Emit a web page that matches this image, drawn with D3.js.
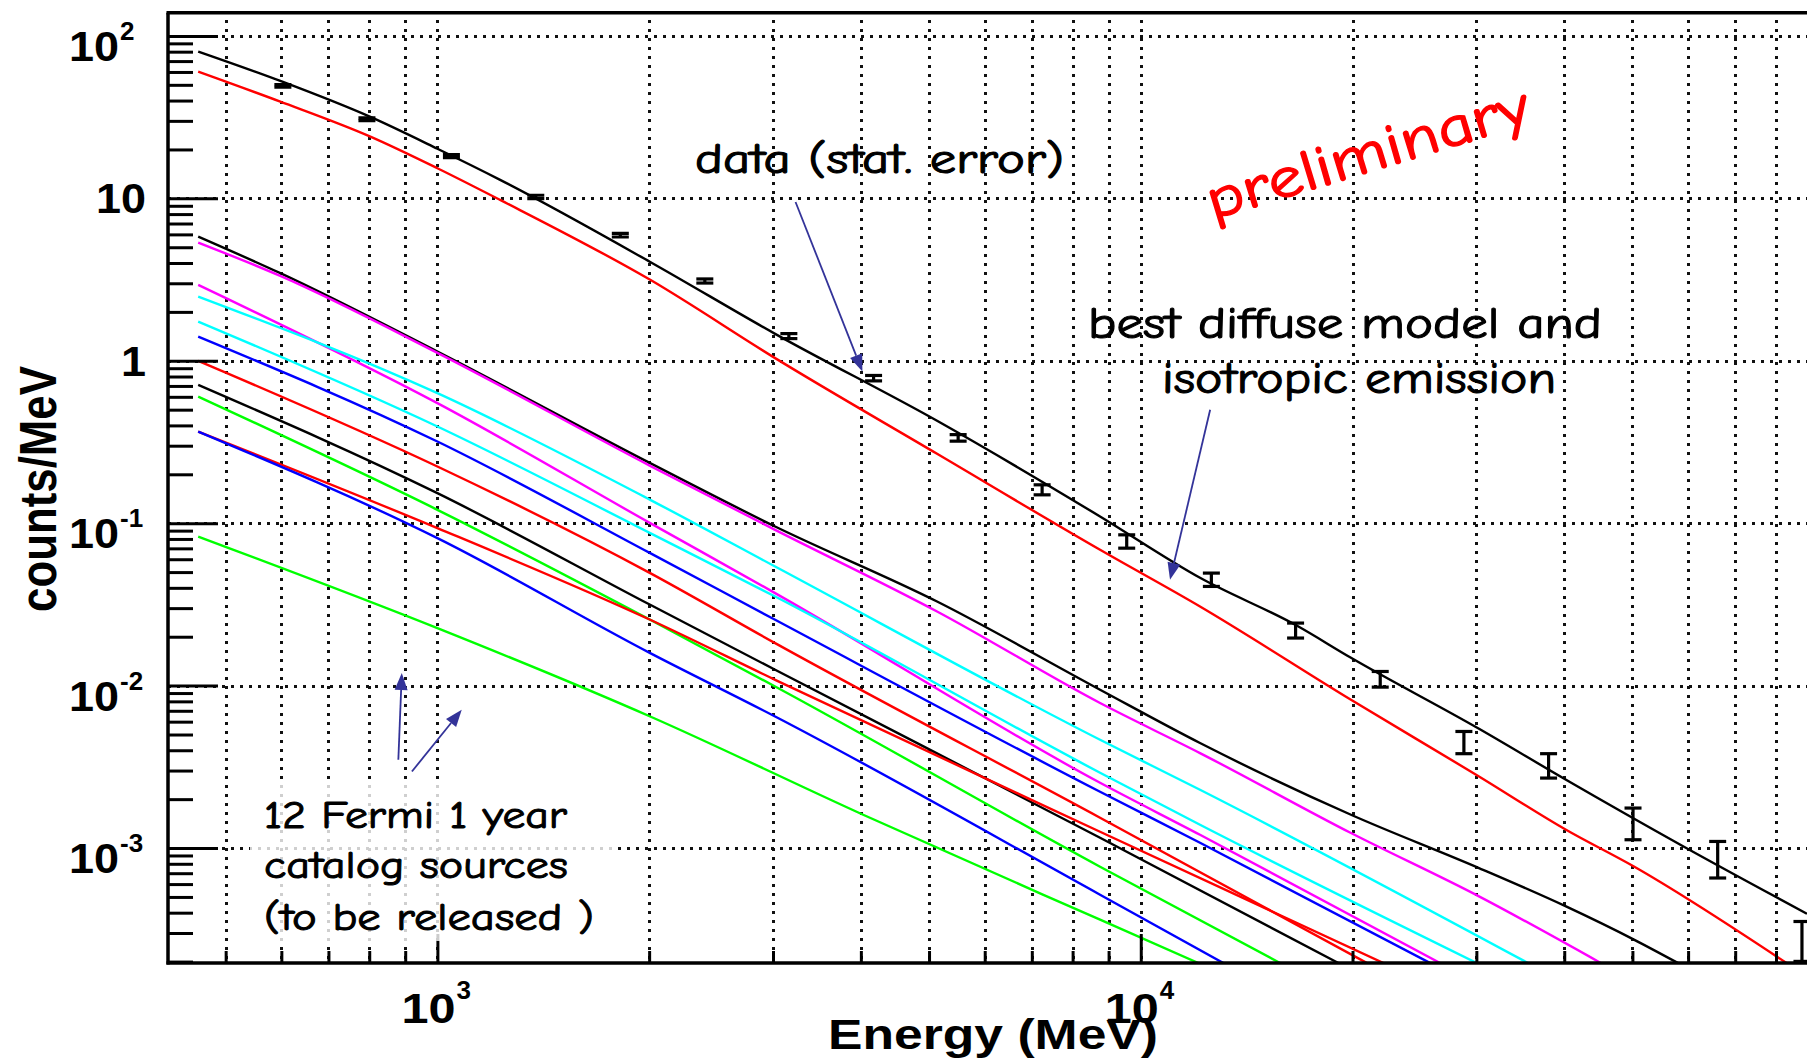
<!DOCTYPE html>
<html>
<head>
<meta charset="utf-8">
<script src="https://cdn.jsdelivr.net/npm/d3@7"></script>
<style>
  html, body { margin: 0; padding: 0; background: #fff; }
  svg { display: block; }
</style>
</head>
<body>
<svg id="chart" width="1807" height="1060"></svg>
<script>
// ---------------------------------------------------------------
// Counts spectrum: measured bins (counts/MeV) with statistical errors
// ---------------------------------------------------------------
const binEnergy  = [603, 794, 1047, 1380, 1820, 2400, 3160, 4170, 5500, 7240,
                    9550, 12600, 16600, 21900, 28800, 38000, 50100, 66100, 87100];
const dataCounts = [49.2, 30.7, 18.2, 10.2, 5.93, 3.10, 1.42, 0.782, 0.335, 0.1605,
                    0.0771, 0.0448, 0.02185, 0.01097, 0.00443, 0.00318, 0.001426, 0.000847, 0.000269];
const dataLow    = [48.3, 30.1, 17.8, 9.95, 5.78, 3.01, 1.37, 0.752, 0.320, 0.1495,
                    0.0702, 0.0408, 0.01963, 0.00979, 0.00381, 0.002697, 0.001125, 0.000654, 0.0002005];
const dataHigh   = [50.1, 31.3, 18.6, 10.45, 6.08, 3.19, 1.47, 0.812, 0.351, 0.1723,
                    0.0848, 0.0493, 0.02427, 0.01222, 0.00522, 0.00381, 0.001763, 0.001098, 0.000353];

// Model curves, [energy (MeV), counts/MeV]
const totalModel = [[457, 80.1], [598, 52.8], [803, 31.7], [1000, 20.2], [1228, 13.0], [2007, 4.06],
                    [3021, 1.465], [5133, 0.427], [8752, 0.110], [12140, 0.0461], [16680, 0.02335],
                    [19900, 0.01484], [30260, 0.005425], [40230, 0.002633], [59190, 0.001019], [88540, 0.000394]];
const diffuseIsoModel = [[457, 60.3], [598, 39.4], [803, 24.0], [1000, 15.33], [1228, 9.78], [2007, 3.15],
                    [3021, 1.038], [5133, 0.2674], [8752, 0.0686], [12140, 0.0307], [19900, 0.00818],
                    [30260, 0.00276], [40230, 0.001296], [50250, 0.00077], [82800, 0.000196]];

// The twelve catalog point sources
const src01 = [[457, 5.815], [598, 3.462], [1000, 1.139], [2007, 0.2343], [3021, 0.0954], [5133, 0.03295],
               [8752, 0.00943], [12140, 0.00443], [19900, 0.001603], [30260, 0.000753], [40230, 0.000437],
               [50250, 0.000273], [58030, 0.000196]];
const src02 = [[457, 5.343], [598, 3.33], [1000, 1.119], [2007, 0.2255], [3021, 0.0910], [5133, 0.02861],
               [8752, 0.00781], [12140, 0.003843], [19900, 0.001237], [30260, 0.000504], [45080, 0.000196]];
const src03 = [[457, 2.933], [1000, 0.5484], [2007, 0.1001], [3021, 0.03712], [8752, 0.002523],
               [12140, 0.001207], [26640, 0.000196]];
const src04 = [[457, 2.485], [1000, 0.6321], [2007, 0.1393], [3021, 0.05411], [8752, 0.004641],
               [12140, 0.002284], [35520, 0.000196]];
const src05 = [[457, 1.743], [1000, 0.3937], [2007, 0.0869], [3021, 0.03538], [8752, 0.002908],
               [12140, 0.001391], [30040, 0.000196]];
const src06 = [[457, 1.409], [1000, 0.3183], [2007, 0.0654], [3021, 0.02543], [8752, 0.00222],
               [12140, 0.001078], [25780, 0.000196]];
const src07 = [[457, 0.9989], [1000, 0.2233], [2007, 0.0493], [3021, 0.01827], [8752, 0.001537], [20960, 0.000196]];
const src08 = [[457, 0.7108], [1000, 0.1531], [2007, 0.03145], [3021, 0.01252], [8752, 0.001158], [19097, 0.000196]];
const src09 = [[457, 0.6023], [1000, 0.1209], [2007, 0.02543], [3021, 0.00988], [8752, 0.000767], [15780, 0.000196]];
const src10 = [[457, 0.3666], [1000, 0.0933], [2007, 0.02543], [3021, 0.01086], [8752, 0.00126], [22130, 0.000196]];
const src11 = [[457, 0.3666], [1000, 0.0809], [2007, 0.01586], [3021, 0.006457], [8752, 0.000516], [13102, 0.000196]];
const src12 = [[457, 0.0828], [1000, 0.0226], [2007, 0.006457], [4030, 0.001603], [8752, 0.000362], [12075, 0.000196]];
const sourceCurves = [src01, src02, src03, src04, src05, src06, src07, src08, src09, src10, src11, src12];
const sourceColors = ["#000000", "#ff00ff", "#ff00ff", "#00ffff", "#00ffff", "#0000ff",
                      "#ff0000", "#000000", "#00ff00", "#ff0000", "#0000ff", "#00ff00"];

// Axis ticks
const xMajorTicks = [1000, 10000];
const xMinorTicks = [500, 600, 700, 800, 900, 2000, 3000, 4000, 5000, 6000, 7000, 8000, 9000,
                     20000, 30000, 40000, 50000, 60000, 70000, 80000, 90000];
const yMajorTicks = [1e-3, 1e-2, 1e-1, 1, 10, 100];
const yMinorTicks = [2e-4, 3e-4, 4e-4, 5e-4, 6e-4, 7e-4, 8e-4, 9e-4,
                     2e-3, 3e-3, 4e-3, 5e-3, 6e-3, 7e-3, 8e-3, 9e-3,
                     0.02, 0.03, 0.04, 0.05, 0.06, 0.07, 0.08, 0.09,
                     0.2, 0.3, 0.4, 0.5, 0.6, 0.7, 0.8, 0.9,
                     2, 3, 4, 5, 6, 7, 8, 9, 20, 30, 40, 50, 60, 70, 80, 90];
const xTickLabels = [{v: 1000, exp: "3"}, {v: 10000, exp: "4"}];
const yTickLabels = [{v: 100, base: "10", exp: "2"}, {v: 10, base: "10", exp: ""}, {v: 1, base: "1", exp: ""},
                     {v: 0.1, base: "10", exp: "-1"}, {v: 0.01, base: "10", exp: "-2"}, {v: 0.001, base: "10", exp: "-3"}];

// Annotation arrows, [energy, counts] of tail and head
const dataArrow   = [[3230, 9.5], [4020, 0.86]];
const modelArrow  = [[12550, 0.499], [11005, 0.0448]];
const sourceArrowA = [[880, 0.0035], [890, 0.01195]];
const sourceArrowB = [[920, 0.00296], [1083, 0.0071]];

// ---------------------------------------------------------------
const svg = d3.select("#chart");
const frame = {left: 168, right: 1815, top: 12.7, bottom: 963};

const x = d3.scaleLog().domain([414, 90900]).range([frame.left, frame.right]);
const y = d3.scaleLog().domain([1.96e-4, 139]).range([frame.bottom, frame.top]);

svg.append("rect").attr("width", 1807).attr("height", 1060).attr("fill", "#fff");

svg.append("defs").append("clipPath").attr("id", "plotClip")
  .append("rect")
  .attr("x", frame.left).attr("y", frame.top)
  .attr("width", frame.right - frame.left).attr("height", frame.bottom - frame.top);

// dotted grid
const grid = svg.append("g").attr("stroke", "#111").attr("stroke-width", 3)
  .attr("stroke-dasharray", "3 6").attr("shape-rendering", "crispEdges");
grid.selectAll("line.vgrid").data(xMajorTicks.concat(xMinorTicks)).join("line")
  .attr("class", "vgrid")
  .attr("x1", d => Math.round(x(d))).attr("x2", d => Math.round(x(d)))
  .attr("y1", frame.top + 7).attr("y2", frame.bottom);
grid.selectAll("line.hgrid").data(yMajorTicks).join("line")
  .attr("class", "hgrid")
  .attr("x1", frame.left).attr("x2", 1807)
  .attr("y1", d => Math.round(y(d))).attr("y2", d => Math.round(y(d)));

// model curves
const line = d3.line().x(d => x(d[0])).y(d => y(d[1])).curve(d3.curveMonotoneX);
const curves = svg.append("g").attr("clip-path", "url(#plotClip)")
  .attr("fill", "none").attr("stroke-width", 2.4).attr("stroke-linejoin", "round");
curves.selectAll("path.src").data(sourceCurves).join("path")
  .attr("class", "src")
  .attr("d", line)
  .attr("stroke", (d, i) => sourceColors[i]);
curves.append("path").attr("d", line(diffuseIsoModel)).attr("stroke", "#ff0000");
curves.append("path").attr("d", line(totalModel)).attr("stroke", "#000000");

// data points with error bars
const pts = binEnergy.map((e, i) => ({e, c: dataCounts[i], lo: dataLow[i], hi: dataHigh[i]}));
const bars = svg.append("g").attr("clip-path", "url(#plotClip)")
  .attr("stroke", "#000").attr("stroke-width", 3.2);
const capHalf = 8.5;
bars.selectAll("line.err").data(pts).join("line").attr("class", "err")
  .attr("x1", d => x(d.e)).attr("x2", d => x(d.e))
  .attr("y1", d => y(d.lo)).attr("y2", d => y(d.hi));
bars.selectAll("line.capLo").data(pts).join("line").attr("class", "capLo")
  .attr("x1", d => x(d.e) - capHalf).attr("x2", d => x(d.e) + capHalf)
  .attr("y1", d => y(d.lo)).attr("y2", d => y(d.lo));
bars.selectAll("line.capHi").data(pts).join("line").attr("class", "capHi")
  .attr("x1", d => x(d.e) - capHalf).attr("x2", d => x(d.e) + capHalf)
  .attr("y1", d => y(d.hi)).attr("y2", d => y(d.hi));

// axes (ticks only, labels drawn separately for the power-of-ten form)
function styleAxis(g) {
  g.select(".domain").remove();
  g.selectAll(".tick line").attr("stroke", "#000").attr("stroke-width", 3);
  g.selectAll(".tick text").remove();
}
svg.append("g").attr("transform", `translate(0,${frame.bottom})`)
  .call(d3.axisBottom(x).tickValues(xMinorTicks).tickSize(-12).tickFormat(""))
  .call(styleAxis);
svg.append("g").attr("transform", `translate(0,${frame.bottom})`)
  .call(d3.axisBottom(x).tickValues(xMajorTicks).tickSize(-29).tickFormat(""))
  .call(styleAxis);
svg.append("g").attr("transform", `translate(${frame.left},0)`)
  .call(d3.axisLeft(y).tickValues(yMinorTicks).tickSize(-25).tickFormat(""))
  .call(styleAxis);
svg.append("g").attr("transform", `translate(${frame.left},0)`)
  .call(d3.axisLeft(y).tickValues(yMajorTicks).tickSize(-50).tickFormat(""))
  .call(styleAxis);

// frame lines
const fr = svg.append("g").attr("stroke", "#000").attr("stroke-width", 3.5);
fr.append("line").attr("x1", frame.left).attr("x2", frame.left).attr("y1", frame.top).attr("y2", frame.bottom + 1.5);
fr.append("line").attr("x1", frame.left - 1.5).attr("x2", 1807).attr("y1", frame.bottom).attr("y2", frame.bottom);
fr.append("line").attr("x1", frame.left - 1.5).attr("x2", 1807).attr("y1", frame.top).attr("y2", frame.top);

// tick labels
const sans = "'Liberation Sans', Arial, Helvetica, sans-serif";
const lab = svg.append("g").attr("font-family", sans).attr("font-weight", "bold").attr("fill", "#000");
xTickLabels.forEach(t => {
  const px = x(t.v);
  lab.append("text").attr("x", px + 18).attr("y", 1023).attr("text-anchor", "end")
    .attr("font-size", 42).attr("textLength", 54).attr("lengthAdjust", "spacingAndGlyphs").text("10");
  lab.append("text").attr("x", px + 19).attr("y", 999).attr("text-anchor", "start")
    .attr("font-size", 26).text(t.exp);
});
yTickLabels.forEach(t => {
  const py = y(t.v);
  if (t.exp) {
    lab.append("text").attr("x", 119).attr("y", py + 25).attr("text-anchor", "end")
      .attr("font-size", 42).attr("textLength", 50).attr("lengthAdjust", "spacingAndGlyphs").text(t.base);
    lab.append("text").attr("x", 120).attr("y", py + 4).attr("text-anchor", "start")
      .attr("font-size", 26).text(t.exp);
  } else {
    lab.append("text").attr("x", 146).attr("y", py + 15).attr("text-anchor", "end")
      .attr("font-size", 42)
      .attr("textLength", t.base.length * 25).attr("lengthAdjust", "spacingAndGlyphs").text(t.base);
  }
});

// axis titles
lab.append("text").attr("x", 828).attr("y", 1049).attr("font-size", 42)
  .attr("textLength", 330).attr("lengthAdjust", "spacingAndGlyphs").text("Energy (MeV)");
lab.append("text").attr("transform", "translate(56,489) rotate(-90)").attr("text-anchor", "middle")
  .attr("font-size", 52).attr("textLength", 246).attr("lengthAdjust", "spacingAndGlyphs").text("counts/MeV");

// annotations (hand-lettered look: rounded font with a slightly heavier stroke)
const hand = "'Comic Sans MS', 'Comic Neue', 'Open Sans', sans-serif";
const ann = svg.append("g").attr("font-family", hand).attr("fill", "#000")
  .attr("stroke", "#000").attr("stroke-width", 1.1).attr("stroke-linejoin", "round");
ann.append("text").attr("x", 695).attr("y", 173).attr("font-size", 42)
  .attr("textLength", 369).attr("lengthAdjust", "spacingAndGlyphs").text("data (stat. error)");
ann.append("text").attr("x", 1088).attr("y", 338).attr("font-size", 44)
  .attr("textLength", 514).attr("lengthAdjust", "spacingAndGlyphs").text("best diffuse model and");
ann.append("text").attr("x", 1162).attr("y", 393).attr("font-size", 44)
  .attr("textLength", 394).attr("lengthAdjust", "spacingAndGlyphs").text("isotropic emission");
ann.append("text").attr("transform", "translate(1213,220) rotate(-17)")
  .attr("font-size", 58).attr("fill", "#ff0000").attr("stroke", "#ff0000").attr("stroke-width", 1.3)
  .attr("textLength", 335).attr("lengthAdjust", "spacingAndGlyphs").text("preliminary");

// catalog-source note on a light box
svg.append("rect").attr("x", 250).attr("y", 779).attr("width", 367).attr("height", 162)
  .attr("fill", "#fff").attr("fill-opacity", 0.8);
const note = svg.append("g").attr("font-family", hand).attr("fill", "#000").attr("font-size", 38)
  .attr("stroke", "#000").attr("stroke-width", 1.0).attr("stroke-linejoin", "round");
note.append("text").attr("x", 264).attr("y", 828)
  .attr("textLength", 303).attr("lengthAdjust", "spacingAndGlyphs").text("12 Fermi 1 year");
note.append("text").attr("x", 264).attr("y", 878)
  .attr("textLength", 304).attr("lengthAdjust", "spacingAndGlyphs").text("catalog sources");
note.append("text").attr("x", 264).attr("y", 930)
  .attr("textLength", 330).attr("lengthAdjust", "spacingAndGlyphs").text("(to be released )");

// arrows
const arrowColor = "#333399";
function drawArrow(a) {
  const x0 = x(a[0][0]), y0 = y(a[0][1]), x1 = x(a[1][0]), y1 = y(a[1][1]);
  const ang = Math.atan2(y1 - y0, x1 - x0);
  const len = 17, half = 6.5;
  const bx = x1 - len * Math.cos(ang), by = y1 - len * Math.sin(ang);
  svg.append("line").attr("x1", x0).attr("y1", y0).attr("x2", bx).attr("y2", by)
    .attr("stroke", arrowColor).attr("stroke-width", 1.8);
  const px = -Math.sin(ang) * half, py = Math.cos(ang) * half;
  svg.append("path")
    .attr("d", `M${x1},${y1} L${bx + px},${by + py} L${bx - px},${by - py} Z`)
    .attr("fill", arrowColor);
}
[dataArrow, modelArrow, sourceArrowA, sourceArrowB].forEach(drawArrow);
</script>
</body>
</html>
